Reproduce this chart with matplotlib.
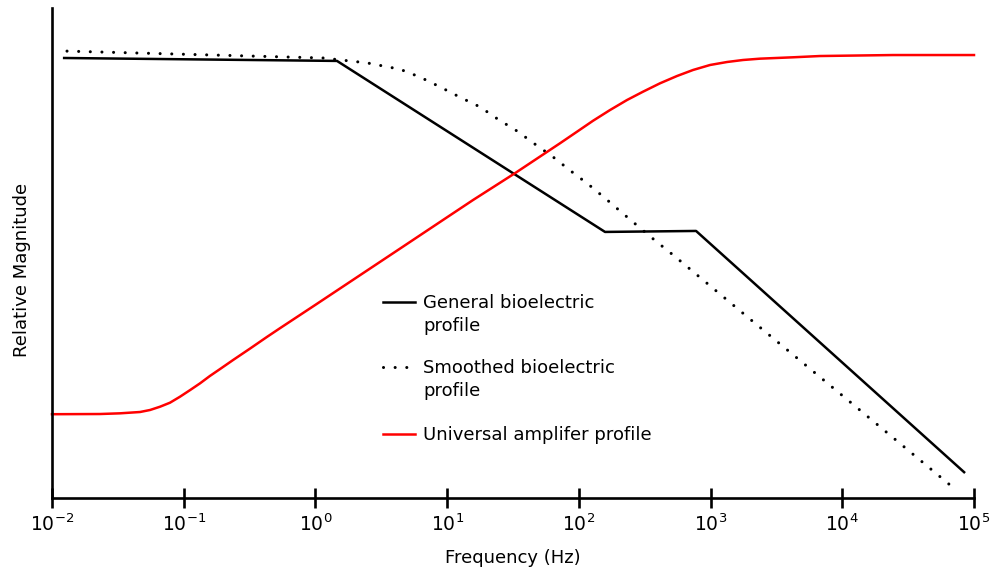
import matplotlib
matplotlib.use("Agg")
import matplotlib.pyplot as plt
from matplotlib.lines import Line2D

# Frequency (Hz) and relative magnitude for each profile
general_freq = [0.0121, 1.458, 158, 776, 85500]
general_mag = [0.898, 0.892, 0.543, 0.545, 0.051]

smoothed_freq = [0.0130, 1.14, 2.46, 4.39, 6.22, 8.83, 12.5, 17.8, 24.3, 33.9,
                 46.5, 63.7, 87.2, 117, 158, 213, 286, 385, 519, 1995, 11460, 71800]
smoothed_mag = [0.912, 0.898, 0.888, 0.875, 0.859, 0.839, 0.818, 0.798, 0.773, 0.749,
                0.722, 0.696, 0.667, 0.641, 0.612, 0.582, 0.553, 0.524, 0.496, 0.365,
                0.196, 0.018]

amp_freq = [0.01, 0.0231, 0.0328, 0.0466, 0.0555, 0.0661, 0.0787, 0.0937, 0.112,
            0.133, 0.158, 0.189, 0.237, 0.319, 0.429, 0.538, 1.01, 4.39, 10, 15.7,
            32.8, 71.9, 96.9, 128, 172, 232, 307, 413, 556, 736, 991, 1334, 1764,
            2374, 4227, 6776, 24300, 100000]
amp_mag = [0.171, 0.1714, 0.1728, 0.1755, 0.1796, 0.1863, 0.1945, 0.2067, 0.2204,
           0.2340, 0.2490, 0.2633, 0.2816, 0.3050, 0.3288, 0.3465, 0.395, 0.509, 0.573,
           0.608, 0.663, 0.7239, 0.7476, 0.7698, 0.7916, 0.8122, 0.8292, 0.8463, 0.8612,
           0.8735, 0.8837, 0.8898, 0.8939, 0.8966, 0.8994, 0.9020, 0.904, 0.904]

tick_values = [1e-2, 1e-1, 1e0, 1e1, 1e2, 1e3, 1e4, 1e5]
tick_labels = [r"$\mathregular{10^{-2}}$", r"$\mathregular{10^{-1}}$", r"$\mathregular{10^{0}}$",
               r"$\mathregular{10^{1}}$", r"$\mathregular{10^{2}}$", r"$\mathregular{10^{3}}$",
               r"$\mathregular{10^{4}}$", r"$\mathregular{10^{5}}$"]

legend_labels = ["General bioelectric\nprofile", "Smoothed bioelectric\nprofile",
                 "Universal amplifer profile"]

W, H = 995, 571
fig = plt.figure(figsize=(W / 100, H / 100), dpi=100)
ax = fig.add_axes([52 / W, 1 - 498 / H, (974 - 52) / W, (498 - 8) / H])

dot_style = (0, (0.01, 3.8))
ax.plot(general_freq, general_mag, color="black", lw=1.8, solid_capstyle="butt")
ax.plot(smoothed_freq, smoothed_mag, color="black", lw=2.2, linestyle=dot_style,
        dash_capstyle="round")
ax.plot(amp_freq, amp_mag, color="#ff0000", lw=1.8, clip_on=False,
        solid_joinstyle="round")

ax.set_xscale("log")
ax.set_xlim(1e-2, 1e5)
ax.set_ylim(0, 1)
ax.set_xticks(tick_values)
ax.set_xticklabels(tick_labels)
ax.xaxis.set_minor_locator(matplotlib.ticker.NullLocator())
ax.set_yticks([])
ax.tick_params(axis="x", direction="inout", length=14, width=1.9, labelsize=13.5, pad=4)
for side in ("top", "right"):
    ax.spines[side].set_visible(False)
for side in ("left", "bottom"):
    ax.spines[side].set_linewidth(1.9)

ax.set_xlabel("Frequency (Hz)", fontsize=13, labelpad=10)
ax.set_ylabel("Relative Magnitude", fontsize=13)
ax.yaxis.set_label_coords((31 - 52) / (974 - 52), (498 - 270) / 490)

# Legend entries
entries = [
    dict(y=302, kw=dict(color="black", lw=1.8)),
    dict(y=367, kw=dict(color="black", lw=2.2, linestyle=dot_style, dash_capstyle="round")),
    dict(y=434, kw=dict(color="#ff0000", lw=1.8)),
]
for label, e in zip(legend_labels, entries):
    yf = 1 - e["y"] / H
    fig.add_artist(Line2D([383 / W, 415 / W], [yf, yf], transform=fig.transFigure, **e["kw"]))
    fig.text(423 / W, 1 - (e["y"] - 8) / H, label, fontsize=13, va="top", ha="left",
             linespacing=1.35)

fig.savefig("out.png", dpi=100)
